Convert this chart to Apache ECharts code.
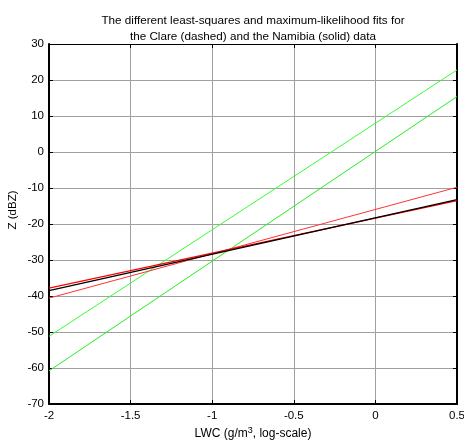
<!DOCTYPE html>
<html>
<head>
<meta charset="utf-8">
<script src="https://cdn.jsdelivr.net/npm/echarts@6/dist/echarts.min.js"></script>
<style>
  html, body { margin: 0; padding: 0; background: #fff; }
  #chart { width: 464px; height: 441px; }
</style>
</head>
<body>
<div id="chart"></div>
<script>
// log10(LWC) end points of every fitted line
const lwcEnds = [-2, 0.5];

// Reflectivity Z (dBZ) at the two end points of each fit
const greenFitUpper = [-51.2, 22.8];
const greenFitLower = [-60.8, 15.4];
const redFitSteep   = [-40.6, -9.8];
const redFitFlat    = [-37.8, -13.5];
const blackFit      = [-38.5, -13.2];

const xTicks = { min: -2, max: 0.5, interval: 0.5 };
const yTicks = { min: -70, max: 30, interval: 10 };

const FONT = 'Liberation Sans, Arial, sans-serif';

function pairs(ys) {
  return lwcEnds.map((x, i) => [x, ys[i]]);
}

function fitLine(name, ys, color, width) {
  return {
    name: name,
    type: 'line',
    data: pairs(ys),
    symbol: 'none',
    silent: true,
    lineStyle: { color: color, width: width },
    z: 3
  };
}

const chart = echarts.init(document.getElementById('chart'), null, { renderer: 'canvas' });

const frameLine = (w) => ({ show: true, onZero: false, lineStyle: { color: '#000', width: w } });
const inTicks = { show: true, inside: true, length: 4, lineStyle: { color: '#000', width: 1 } };
const tickFont = { fontFamily: FONT, fontSize: 11.5, color: '#000' };

chart.setOption({
  animation: false,
  backgroundColor: '#fff',
  title: {
    text: 'The different least-squares and maximum-likelihood fits for\nthe Clare (dashed) and the Namibia (solid) data',
    left: 248,
    top: 8,
    textAlign: 'center',
    textStyle: { fontFamily: FONT, fontSize: 11.7, fontWeight: 'normal', color: '#000', lineHeight: 16 }
  },
  grid: { left: 49, right: 7, top: 44, bottom: 37, containLabel: false, outerBoundsMode: 'none' },
  xAxis: [
    {
      type: 'value',
      min: xTicks.min, max: xTicks.max, interval: xTicks.interval,
      name: '{t|LWC (g/m}{sup|3}{t|, log-scale)}',
      nameLocation: 'middle',
      nameGap: 22,
      nameMoveOverlap: false,
      nameTextStyle: {
        rich: {
          t: { fontFamily: FONT, fontSize: 12, color: '#000' },
          sup: { fontFamily: FONT, fontSize: 9, color: '#000', padding: [0, 0, 7, 0] }
        }
      },
      axisLine: frameLine(2),
      axisTick: inTicks,
      axisLabel: Object.assign({ margin: 6 }, tickFont),
      splitLine: { show: true, lineStyle: { color: '#a0a0a0', width: 1 } }
    },
    {
      type: 'value', position: 'top',
      min: xTicks.min, max: xTicks.max, interval: xTicks.interval,
      axisLine: frameLine(1),
      axisTick: inTicks,
      axisLabel: { show: false },
      splitLine: { show: false }
    }
  ],
  yAxis: [
    {
      type: 'value',
      min: yTicks.min, max: yTicks.max, interval: yTicks.interval,
      name: 'Z (dBZ)',
      nameLocation: 'middle',
      nameGap: 30,
      nameMoveOverlap: false,
      nameRotate: 90,
      nameTextStyle: { fontFamily: FONT, fontSize: 11.5, color: '#000', padding: [0, 0, 0, 28] },
      axisLine: frameLine(2),
      axisTick: inTicks,
      axisLabel: Object.assign({ margin: 5 }, tickFont),
      splitLine: { show: true, lineStyle: { color: '#a0a0a0', width: 1 } }
    },
    {
      type: 'value', position: 'right',
      min: yTicks.min, max: yTicks.max, interval: yTicks.interval,
      axisLine: frameLine(2),
      axisTick: inTicks,
      axisLabel: { show: false },
      splitLine: { show: false }
    }
  ],
  series: [
    fitLine('green upper', greenFitUpper, '#33ff33', 1),
    fitLine('green lower', greenFitLower, '#22ee22', 1),
    fitLine('red steep', redFitSteep, '#ff3333', 1),
    fitLine('red flat', redFitFlat, '#ff0000', 1.2),
    fitLine('black', blackFit, '#000000', 1.3)
  ]
});
</script>
</body>
</html>
